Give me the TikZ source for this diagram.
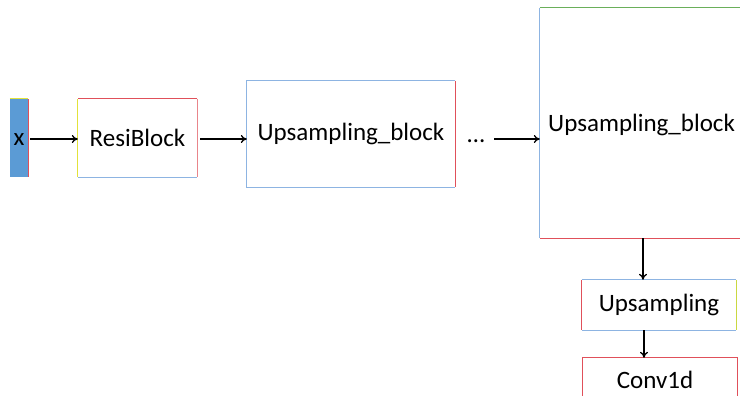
\documentclass[tikz,border=0pt]{standalone}
\usepackage{fontspec}
\setmainfont{Carlito}
\usetikzlibrary{arrows.meta}
\definecolor{lblue}{HTML}{8DB4E2}
\definecolor{xblue}{HTML}{5B9BD5}
\definecolor{ered}{HTML}{E0505A}
\definecolor{eyel}{HTML}{E2E23A}
\definecolor{egreen}{HTML}{6AAF5A}
\tikzset{
  blk/.style={draw=none, inner sep=0pt, font=\fontsize{25}{30}\selectfont, text=black},
  edge/.style={line width=1.3pt},
  conn/.style={-{To[length=6pt,width=8pt]}, line width=1.3pt, black},
}
\begin{document}
\begin{tikzpicture}[x=1pt,y=-1pt]
\useasboundingbox (0,0) rectangle (740,396);
\clip (0,0) rectangle (740,396);
\fill[white] (0,0) rectangle (740,396);
% x
\node[blk, fill=xblue, minimum width=18pt, minimum height=78pt] (x) at (19,138) {};
\node[blk] (xt) at (19,140) {x};
\draw[edge, eyel] (x.north west) -- (x.north east);
\draw[edge, ered] (x.north east) -- (x.south east);
% ResiBlock
\node[blk, minimum width=119pt, minimum height=78pt] (rb) at (137.5,138) {ResiBlock};
\draw[edge, lblue] (rb.south west) -- (rb.south east);
\draw[edge, eyel] (rb.south west) -- (rb.north west);
\draw[edge, ered] (rb.north west) -- (rb.north east);
\draw[edge, ered!70] (rb.north east) -- (rb.south east);
% Upsampling block 1
\node[blk, minimum width=208pt, minimum height=106pt] (u1) at (351,134) {Upsampling\_block};
\draw[edge, lblue] (u1.north east) -- (u1.north west) -- (u1.south west) -- (u1.south east);
\draw[edge, ered] (u1.north east) -- (u1.south east);
\node[blk] (dots) at (476,141) {\ldots};
% big block
\node[blk, minimum width=230pt, minimum height=230pt] (u2) at (655,123) {};
\node[blk, anchor=west] (u2t) at (548,125) {Upsampling\_block};
\draw[edge, lblue] (u2.north west) -- (u2.south west);
\draw[edge, egreen] (u2.north west) -- (u2.north east);
\draw[edge, ered] (u2.south west) -- (u2.south east);
% Upsampling
\node[blk, minimum width=154pt, minimum height=50pt] (up) at (659,305) {Upsampling};
\draw[edge, lblue] (up.north west) -- (up.north east);
\draw[edge, lblue] (up.south west) -- (up.south east);
\draw[edge, ered] (up.north west) -- (up.south west);
\draw[edge, eyel!80!egreen] (up.north east) -- (up.south east);
% Conv1d
\node[blk, minimum width=154pt, minimum height=50pt] (cv) at (660,383) {};
\node[blk] (cvt) at (655,380) {Conv1d};
\draw[edge, ered] (cv.south west) -- (cv.north west) -- (cv.north east) -- (cv.south east);
% connectors
\coordinate (c1) at (30,139);
\draw[conn] (c1) -- (c1 -| rb.west);
\coordinate (c2) at (200,139);
\draw[conn] (c2) -- (c2 -| u1.west);
\coordinate (d1) at (494,139);
\draw[conn] (d1) -- (d1 -| u2.west);
\coordinate (a1) at (643,238);
\draw[conn] (a1) -- (a1 |- up.north);
\coordinate (a2) at (644,330);
\draw[conn] (a2) -- (a2 |- cv.north);
\end{tikzpicture}
\end{document}
